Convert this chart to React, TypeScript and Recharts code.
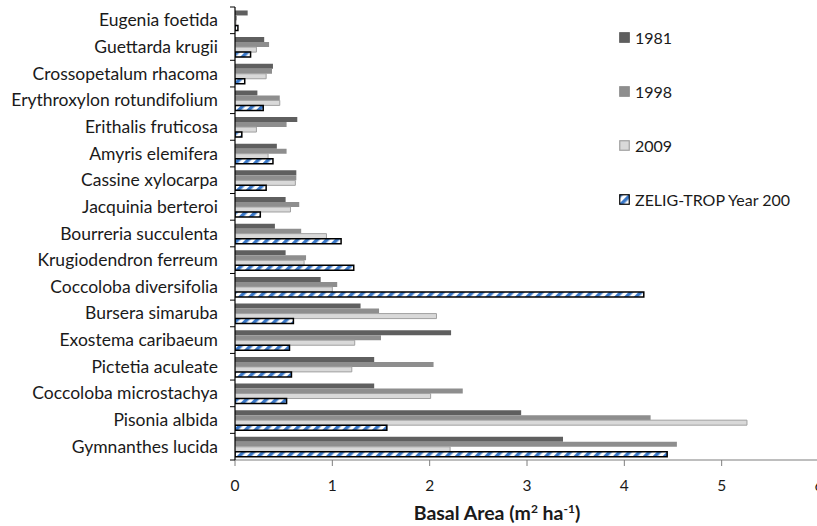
import React from 'react';
import { BarChart, Bar, XAxis, YAxis, Legend } from 'recharts';

const categories = [
  'Eugenia foetida',
  'Guettarda krugii',
  'Crossopetalum rhacoma',
  'Erythroxylon rotundifolium',
  'Erithalis fruticosa',
  'Amyris elemifera',
  'Cassine xylocarpa',
  'Jacquinia berteroi',
  'Bourreria succulenta',
  'Krugiodendron ferreum',
  'Coccoloba diversifolia',
  'Bursera simaruba',
  'Exostema caribaeum',
  'Pictetia aculeate',
  'Coccoloba microstachya',
  'Pisonia albida',
  'Gymnanthes lucida',
];

const v1981 = [0.13, 0.30, 0.39, 0.23, 0.64, 0.43, 0.63, 0.52, 0.41, 0.52, 0.88, 1.29, 2.22, 1.43, 1.43, 2.94, 3.37];
const v1998 = [0.02, 0.35, 0.38, 0.46, 0.53, 0.53, 0.63, 0.66, 0.68, 0.73, 1.05, 1.48, 1.50, 2.04, 2.34, 4.27, 4.54];
const v2009 = [0.01, 0.22, 0.32, 0.46, 0.22, 0.34, 0.62, 0.57, 0.94, 0.71, 1.00, 2.07, 1.23, 1.20, 2.01, 5.26, 2.21];
const vZelig = [0.03, 0.16, 0.10, 0.29, 0.07, 0.39, 0.32, 0.26, 1.09, 1.22, 4.20, 0.60, 0.56, 0.58, 0.53, 1.56, 4.44];

const seriesNames = ['1981', '1998', '2009', 'ZELIG-TROP Year 200'];
const xTicks = [0, 1, 2, 3, 4, 5, 6];

const data = categories.map((name, i) => ({
  name,
  y1981: v1981[i],
  y1998: v1998[i],
  y2009: v2009[i],
  zelig: vZelig[i],
}));

const W = 830;
const H = 526;
const TOP = 7;
const XH = 66;
const YW = 235;
const BAND = (H - TOP - XH) / categories.length;
const FONT = 'Lato, "Open Sans", sans-serif';

const fills = ['#5f5f5f', '#8e8e8e', '#d9d9d9', 'url(#hatch)'];
const strokes = ['none', 'none', '#a0a0a0', '#000'];

function YTick(props: any) {
  const { x, y, payload, index } = props;
  const i = payload && payload.index !== undefined ? payload.index : index;
  return (
    <g>
      <text x={x} y={y} dy={6} textAnchor="end" fontSize={17.5} fill="#1a1a1a" fontFamily={FONT}>
        {payload.value}
      </text>
      <line x1={x + 12} x2={x + 17} y1={y + BAND / 2} y2={y + BAND / 2} stroke="#000" />
      {i === 0 && <line x1={x + 12} x2={x + 17} y1={y - BAND / 2} y2={y - BAND / 2} stroke="#000" />}
    </g>
  );
}

function XTitle(props: any) {
  const vb = props.viewBox || { x: YW, y: H - XH, width: W - YW - 11, height: XH };
  const cx = vb.x + vb.width / 2 - 30;
  return (
    <text x={cx} y={vb.y + 60} textAnchor="middle" fontSize={19.5} fontWeight="bold" fill="#1a1a1a" fontFamily={FONT}>
      <tspan>Basal Area (m</tspan>
      <tspan dy={-7} fontSize={12}>2</tspan>
      <tspan dy={7}> ha</tspan>
      <tspan dy={-7} fontSize={12}>-1</tspan>
      <tspan dy={7}>)</tspan>
    </text>
  );
}

function LegendContent(props: any) {
  const payload = props.payload || [];
  return (
    <div style={{ fontFamily: FONT }}>
      {payload.map((p: any, i: number) => (
        <div key={i} style={{ display: 'flex', alignItems: 'center', height: 54, fontSize: 16, color: '#1a1a1a' }}>
          <svg width={11} height={11} style={{ marginRight: 5 }}>
            <rect x={0.75} y={0.75} width={9.5} height={9.5} fill={fills[i]} stroke={strokes[i] === 'none' ? fills[i] : strokes[i]} strokeWidth={1.2} />
          </svg>
          <span>{p.value}</span>
        </div>
      ))}
    </div>
  );
}

export default function App() {
  return (
    <div style={{ position: 'absolute', left: 0, top: 0, width: 817, height: 526, overflow: 'hidden', background: '#fff' }}>
      <svg width={0} height={0} style={{ position: 'absolute' }}>
        <defs>
          <pattern id="hatch" patternUnits="userSpaceOnUse" width={7} height={7} patternTransform="rotate(45)">
            <rect x={0} y={0} width={7} height={7} fill="#ffffff" />
            <rect x={0} y={0} width={3.5} height={7} fill="#3a78c8" />
          </pattern>
        </defs>
      </svg>
      <BarChart
        width={W}
        height={H}
        data={data}
        layout="vertical"
        margin={{ top: TOP, right: 11, left: 0, bottom: 0 }}
        barCategoryGap="13%"
        barGap={0}
      >
        <XAxis
          type="number"
          domain={[0, 6]}
          ticks={xTicks}
          interval={0}
          height={XH}
          allowDataOverflow
          axisLine={{ stroke: '#7f7f7f', strokeWidth: 1.2 }}
          tickLine={{ stroke: '#7f7f7f' }}
          tickSize={6}
          tickMargin={14}
          tick={{ fontSize: 15.5, fill: '#1a1a1a', fontFamily: FONT }}
          label={<XTitle />}
        />
        <XAxis
          xAxisId="top"
          orientation="top"
          type="number"
          domain={[0, 6]}
          height={0}
          tick={false}
          tickLine={false}
          axisLine={{ stroke: '#000', strokeWidth: 1.5 }}
        />
        <YAxis
          type="category"
          dataKey="name"
          width={YW}
          interval={0}
          tickLine={false}
          tickSize={0}
          tickMargin={17}
          axisLine={{ stroke: '#000', strokeWidth: 1.2 }}
          tick={<YTick />}
        />
        <Legend
          layout="vertical"
          align="center"
          verticalAlign="middle"
          content={<LegendContent />}
          wrapperStyle={{ left: 619, top: 10, width: 200, height: 220 }}
        />
        <Bar dataKey="y1981" name={seriesNames[0]} fill={fills[0]} isAnimationActive={false} />
        <Bar dataKey="y1998" name={seriesNames[1]} fill={fills[1]} isAnimationActive={false} />
        <Bar dataKey="y2009" name={seriesNames[2]} fill={fills[2]} stroke={strokes[2]} strokeWidth={1} isAnimationActive={false} />
        <Bar dataKey="zelig" name={seriesNames[3]} fill={fills[3]} stroke={strokes[3]} strokeWidth={1.5} isAnimationActive={false} />
      </BarChart>
    </div>
  );
}
